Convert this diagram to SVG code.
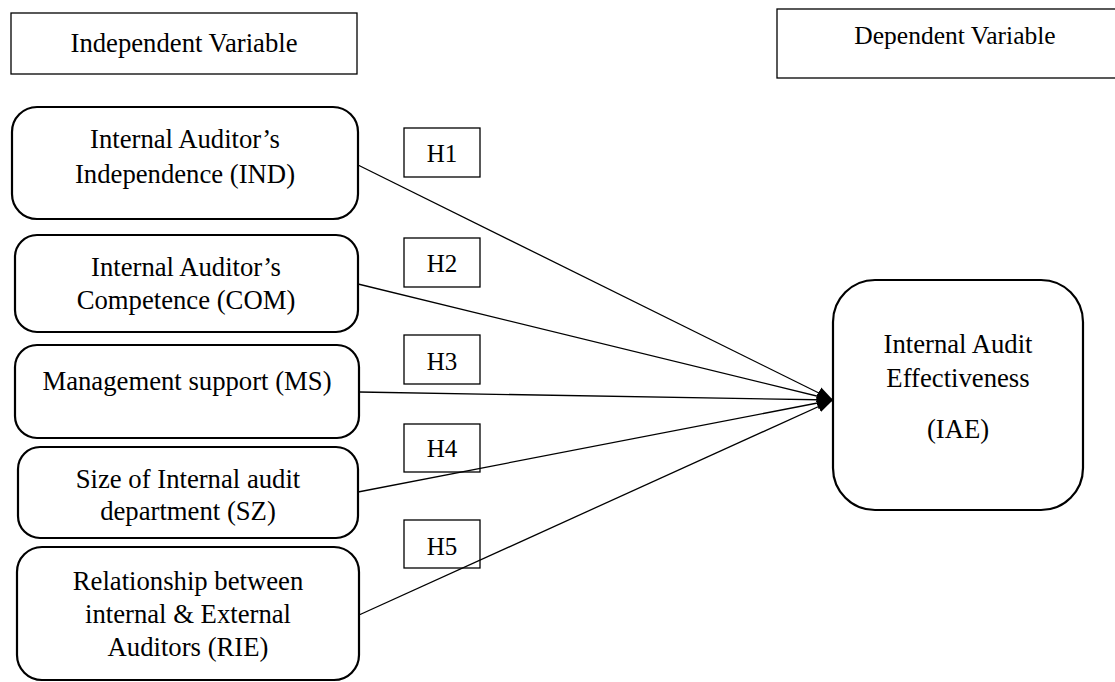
<svg xmlns="http://www.w3.org/2000/svg" width="1115" height="682" viewBox="0 0 1115 682">
<style>
text{font-family:"Liberation Serif","Times New Roman",serif;font-size:26.7px;fill:#000;text-anchor:middle}
.hdr{fill:#fff;stroke:#000;stroke-width:1.3}
.node{fill:#fff;stroke:#000;stroke-width:2.2}
.hbox{fill:none;stroke:#000;stroke-width:1.3}
.hl{font-size:25px}
.conn{stroke:#000;stroke-width:1.3;fill:none}
</style>
<defs>
<marker id="arr" markerUnits="userSpaceOnUse" markerWidth="18" markerHeight="14" refX="16" refY="7" orient="auto">
<path d="M0,1 L16,7 L0,13 Z" fill="#000"/>
</marker>
</defs>
<g id="hdr-indep"><rect class="hdr" x="11" y="13" width="346" height="61"/><text x="184" y="52">Independent Variable</text></g>
<g id="hdr-dep"><rect class="hdr" x="777" y="9" width="340" height="69"/><text x="955" y="44" style="font-size:25.5px">Dependent Variable</text></g>
<g id="connectors">
<line class="conn" x1="358" y1="165" x2="833" y2="400" marker-end="url(#arr)"/>
<line class="conn" x1="358" y1="284" x2="833" y2="400" marker-end="url(#arr)"/>
<line class="conn" x1="359" y1="392" x2="833" y2="400" marker-end="url(#arr)"/>
<line class="conn" x1="358" y1="492" x2="833" y2="400" marker-end="url(#arr)"/>
<line class="conn" x1="359" y1="615" x2="833" y2="400" marker-end="url(#arr)"/>
</g>
<g id="ind"><rect class="node" x="12" y="107" width="346" height="112" rx="25"/><text x="185" y="148">Internal Auditor’s</text><text x="185" y="183">Independence (IND)</text></g>
<g id="com"><rect class="node" x="15" y="235" width="343" height="97" rx="22"/><text x="186" y="276">Internal Auditor’s</text><text x="186" y="309">Competence (COM)</text></g>
<g id="ms"><rect class="node" x="15" y="345" width="344" height="93" rx="22"/><text x="187" y="390">Management support (MS)</text></g>
<g id="sz"><rect class="node" x="18" y="447" width="340" height="91" rx="22"/><text x="188" y="488">Size of Internal audit</text><text x="188" y="520">department (SZ)</text></g>
<g id="rie"><rect class="node" x="17" y="547" width="342" height="133" rx="25"/><text x="188" y="590">Relationship between</text><text x="188" y="623">internal &amp; External</text><text x="188" y="656">Auditors (RIE)</text></g>
<g id="h1"><rect class="hbox" x="404" y="128" width="76" height="49"/><text class="hl" x="442" y="162">H1</text></g>
<g id="h2"><rect class="hbox" x="404" y="238" width="76" height="49"/><text class="hl" x="442" y="272">H2</text></g>
<g id="h3"><rect class="hbox" x="404" y="335" width="76" height="49"/><text class="hl" x="442" y="370">H3</text></g>
<g id="h4"><rect class="hbox" x="404" y="424" width="76" height="48"/><text class="hl" x="442" y="457">H4</text></g>
<g id="h5"><rect class="hbox" x="404" y="520" width="76" height="48"/><text class="hl" x="442" y="555">H5</text></g>
<g id="iae"><rect class="node" x="833" y="280" width="250" height="230" rx="42"/><text x="958" y="353">Internal Audit</text><text x="958" y="387">Effectiveness</text><text x="958" y="438">(IAE)</text></g>
</svg>
